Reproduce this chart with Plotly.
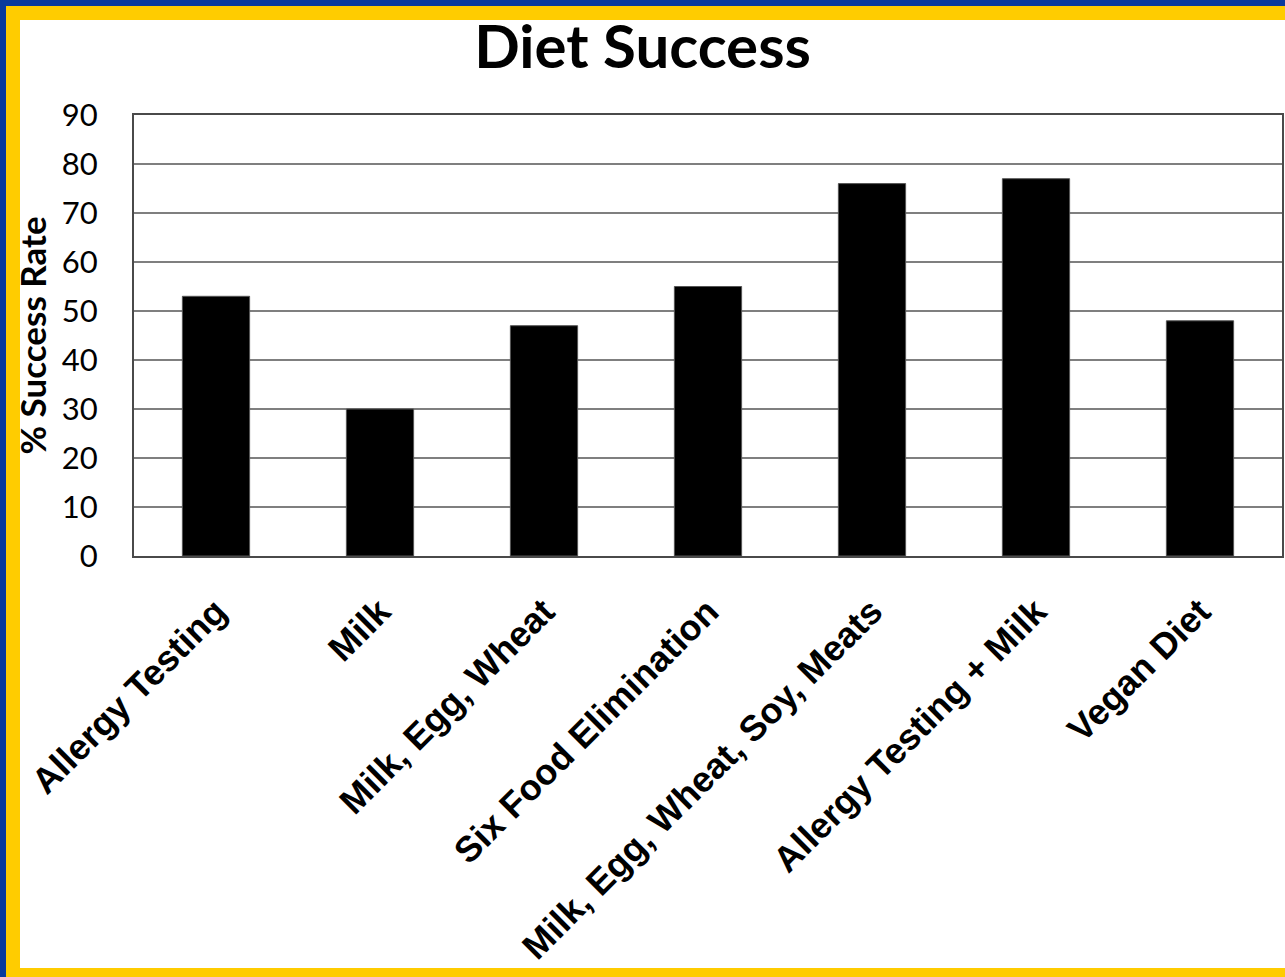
import plotly.graph_objects as go

categories = [
    "Allergy Testing",
    "Milk",
    "Milk, Egg, Wheat",
    "Six Food Elimination",
    "Milk, Egg, Wheat, Soy, Meats",
    "Allergy Testing + Milk",
    "Vegan Diet",
]
success_rate = [53, 30, 47, 55, 76, 77, 48]
y_ticks = [0, 10, 20, 30, 40, 50, 60, 70, 80, 90]

W, H = 1285, 977
L, R, T, B = 134, 3, 115, 421
pw, ph = W - L - R, H - T - B

BLUE = "#0A3A9C"
GOLD = "#FFCC00"


def px_rect(x0, y0, x1, y1, color):
    # rectangle given in page pixels, converted to paper coordinates
    return dict(
        type="rect", xref="paper", yref="paper", layer="below",
        x0=(x0 - L) / pw, x1=(x1 - L) / pw,
        y0=(H - B - y0) / ph, y1=(H - B - y1) / ph,
        fillcolor=color, line=dict(width=0),
    )


fig = go.Figure(
    go.Bar(
        x=categories,
        y=success_rate,
        marker=dict(color="black", line=dict(color="#555555", width=1)),
    )
)

fig.update_layout(
    width=W,
    height=H,
    margin=dict(l=L, r=R, t=T, b=B, autoexpand=False),
    paper_bgcolor="white",
    plot_bgcolor="white",
    bargap=0.59,
    showlegend=False,
    title=dict(
        text="<b>Diet Success</b>",
        x=0.5, xanchor="center",
        y=1 - 47 / H, yanchor="middle", yref="container",
        font=dict(family="Lato", size=60, color="black"),
    ),
    shapes=[
        px_rect(0, 0, W, 20, GOLD),
        px_rect(0, 0, 20, H, GOLD),
        px_rect(0, 968, W, H, GOLD),
        px_rect(0, 0, W, 6, BLUE),
        px_rect(0, 0, 6, H, BLUE),
    ],
)

fig.update_yaxes(
    range=[0, 90],
    tickvals=y_ticks,
    showgrid=True,
    gridcolor="#7F7F7F",
    gridwidth=2,
    showline=True,
    linecolor="#4A4A4A",
    linewidth=2,
    mirror=True,
    ticks="",
    ticklabelstandoff=28,
    tickfont=dict(family="Lato", size=31, color="black"),
    zeroline=False,
    title=dict(
        text="<b>% Success Rate</b>",
        font=dict(family="Lato", size=35, color="black"),
        standoff=5,
    ),
)

fig.update_xaxes(
    showline=True,
    linecolor="#4A4A4A",
    linewidth=2,
    mirror=True,
    ticks="",
    tickangle=-45,
    ticklabelstandoff=18,
    tickfont=dict(family="Liberation Sans", size=36, color="black", weight="bold"),
)

fig.write_html("out.html")
